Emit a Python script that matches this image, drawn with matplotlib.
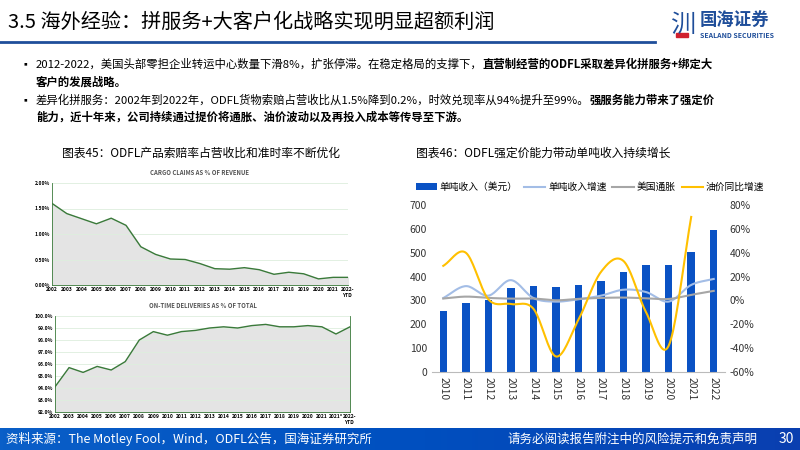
import matplotlib.pyplot as plt
import numpy as np
from matplotlib.lines import Line2D
from matplotlib.patches import Rectangle

plt.rcParams['font.family'] = ['Noto Sans CJK SC', 'DejaVu Sans']

claim_years = ['2002', '2003', '2004', '2005', '2006', '2007', '2008', '2009', '2010', '2011', '2012',
               '2013', '2014', '2015', '2016', '2017', '2018', '2019', '2020', '2021', '2022-\nYTD']
claims = [1.6, 1.4, 1.3, 1.2, 1.31, 1.17, 0.75, 0.6, 0.51, 0.5, 0.42, 0.32, 0.31, 0.34, 0.3, 0.21,
          0.25, 0.22, 0.12, 0.15, 0.15]
ontime_years = ['2002', '2003', '2004', '2005', '2006', '2007', '2008', '2009', '2010', '2011', '2012',
                '2013', '2014', '2015', '2016', '2017', '2018', '2019', '2020', '2021', '2021*', '2022-\nYTD']
ontime = [94.1, 95.7, 95.3, 95.8, 95.5, 96.2, 98.0, 98.7, 98.4, 98.7, 98.8, 99.0, 99.1, 99.0, 99.2,
          99.3, 99.1, 99.1, 99.2, 99.1, 98.5, 99.1]

years = ['2010', '2011', '2012', '2013', '2014', '2015', '2016', '2017', '2018', '2019', '2020', '2021', '2022']
rev_per_ton = [255, 288, 300, 352, 360, 357, 364, 381, 420, 447, 447, 503, 596]
rev_growth = [2, 12, 4, 17, 2, -1, 1, 4, 9, 7, -1, 13, 18]
inflation = [1.6, 3.2, 2.1, 1.5, 1.6, 0.1, 1.3, 2.1, 2.4, 1.8, 1.2, 4.7, 8.0]
oil_growth = [29, 40, 1, -3, -7, -47, -16, 24, 33, -10, -38, 70]

BLUE = '#0A52C4'


def smooth(x, y, n=20):
    # catmull-rom curve through the points, for display only
    x = np.asarray(x, float); y = np.asarray(y, float)
    px = np.concatenate([[2 * x[0] - x[1]], x, [2 * x[-1] - x[-2]]])
    py = np.concatenate([[2 * y[0] - y[1]], y, [2 * y[-1] - y[-2]]])
    xs, ys = [], []
    t = np.linspace(0, 1, n)
    for i in range(1, len(px) - 2):
        for p, out in ((px, xs), (py, ys)):
            p0, p1, p2, p3 = p[i - 1], p[i], p[i + 1], p[i + 2]
            out.extend(0.5 * (2 * p1 + (-p0 + p2) * t + (2 * p0 - 5 * p1 + 4 * p2 - p3) * t ** 2
                              + (-p0 + 3 * p1 - 3 * p2 + p3) * t ** 3))
    return xs, ys


fig = plt.figure(figsize=(8, 4.5), dpi=100)
W, H = 800, 450


def fx(px): return px / W
def fy(py): return 1 - py / H


# header
fig.text(fx(8), fy(22), '3.5 海外经验：拼服务+大客户化战略实现明显超额利润', fontsize=14.5, va='center')
fig.add_artist(Line2D([0, fx(655)], [fy(42), fy(42)], color='#1F4E9A', lw=2))
fig.text(fx(700), fy(20), '国海证券', fontsize=12.5, color='#1F4E9A', fontweight='bold', va='center')
fig.text(fx(700), fy(36), 'SEALAND SECURITIES', fontsize=5, color='#1F4E9A', fontweight='bold', va='center')
fig.text(fx(670), fy(25), '汌', fontsize=18, color='#1F4E9A', va='center')
fig.add_artist(Rectangle((fx(676), fy(37)), 12 / W, 4 / H, color='#D0202E'))

# bullets with mixed bold
renderer = fig.canvas.get_renderer()


def rich(x, y, parts):
    for txt, bold in parts:
        t = fig.text(fx(x), fy(y), txt, fontsize=8.2, va='center',
                     fontweight='bold' if bold else 'normal')
        x += t.get_window_extent(renderer).width


fig.text(fx(20), fy(64), '▪', fontsize=7, va='center')
rich(36, 64, [('2012-2022，美国头部零担企业转运中心数量下滑8%，扩张停滞。在稳定格局的支撑下，', False),
              ('直营制经营的ODFL采取差异化拼服务+绑定大', True)])
rich(36, 82, [('客户的发展战略。', True)])
fig.text(fx(20), fy(100), '▪', fontsize=7, va='center')
rich(36, 100, [('差异化拼服务：2002年到2022年，ODFL货物索赔占营收比从1.5%降到0.2%，时效兑现率从94%提升至99%。', False),
               ('强服务能力带来了强定价', True)])
rich(36, 117, [('能力，近十年来，公司持续通过提价将通胀、油价波动以及再投入成本等传导至下游。', True)])

fig.text(fx(62), fy(153), '图表45：ODFL产品索赔率占营收比和准时率不断优化', fontsize=8.5, va='center')
fig.text(fx(416), fy(153), '图表46：ODFL强定价能力带动单吨收入持续增长', fontsize=8.5, va='center')

GREEN = '#3A7A3A'
small = dict(fontsize=3.6, fontweight='bold')

# cargo claims
ax1 = fig.add_axes([fx(52), fy(285), (348 - 52) / W, (285 - 183) / H])
x1 = np.arange(len(claims))
ax1.fill_between(x1, claims, color='#E4E4E4')
ax1.plot(x1, claims, color=GREEN, lw=1)
ax1.set_xlim(0, len(claims) - 1)
ax1.set_ylim(0, 2)
ax1.set_yticks([0, 0.5, 1, 1.5, 2])
ax1.set_yticklabels(['0.00%', '0.50%', '1.00%', '1.50%', '2.00%'], **small)
ax1.set_xticks(x1)
ax1.set_xticklabels(claim_years, **small)
ax1.yaxis.grid(True, color='#DDEEDD', lw=0.6)
ax1.tick_params(length=0, pad=1.5)
for s in ['top', 'right']:
    ax1.spines[s].set_visible(False)
for s in ['left', 'bottom']:
    ax1.spines[s].set_color(GREEN)
    ax1.spines[s].set_linewidth(0.6)
ax1.set_title('CARGO CLAIMS AS % OF REVENUE', fontsize=4.3, fontweight='bold', color='#555555', pad=6)

# on-time deliveries
ax2 = fig.add_axes([fx(55), fy(412), (350 - 55) / W, (412 - 316) / H])
x2 = np.arange(len(ontime))
ax2.fill_between(x2, ontime, 92, color='#E4E4E4')
ax2.plot(x2, ontime, color=GREEN, lw=1)
ax2.set_xlim(0, len(ontime) - 1)
ax2.set_ylim(92, 100)
ax2.set_yticks(range(92, 101))
ax2.set_yticklabels(['%.1f%%' % v for v in range(92, 101)], **small)
ax2.set_xticks(x2)
ax2.set_xticklabels(ontime_years, **small)
ax2.yaxis.grid(True, color='#DDEEDD', lw=0.6)
ax2.tick_params(length=0, pad=1.5)
for s in ['top']:
    ax2.spines[s].set_visible(False)
for s in ['left', 'bottom', 'right']:
    ax2.spines[s].set_color(GREEN)
    ax2.spines[s].set_linewidth(0.6)
ax2.set_title('ON-TIME DELIVERIES AS % OF TOTAL', fontsize=4.3, fontweight='bold', color='#555555', pad=6)

# right chart
ax3 = fig.add_axes([fx(432), fy(372), (725 - 432) / W, (372 - 205) / H])
xr = np.arange(len(years))
ax3.bar(xr, rev_per_ton, width=0.33, color=BLUE, label='单吨收入（美元）', zorder=2)
ax3.set_ylim(0, 700)
ax3.set_xlim(-0.5, len(years) - 0.5)
ax3.set_yticks(range(0, 701, 100))
ax3.set_xticks(xr)
ax3.set_xticklabels(years, rotation=-90)
ax3.tick_params(labelsize=7.5, colors='#333333', length=0)
for s in ['top', 'right', 'left']:
    ax3.spines[s].set_visible(False)
ax3.spines['bottom'].set_color('#BBBBBB')
ax4 = ax3.twinx()
ax4.set_ylim(-60, 80)
ax4.set_yticks(range(-60, 81, 20))
ax4.set_yticklabels(['%d%%' % v for v in range(-60, 81, 20)])
ax4.tick_params(labelsize=7.5, colors='#333333', length=0)
for s in ax4.spines.values():
    s.set_visible(False)
ax4.plot(*smooth(xr, rev_growth), color='#A3BDE6', lw=1.5, label='单吨收入增速')
ax4.plot(*smooth(xr, inflation), color='#A6A6A6', lw=1.5, label='美国通胀')
ax4.plot(*smooth(xr[:len(oil_growth)], oil_growth), color='#FFC000', lw=1.5, label='油价同比增速')
h1, l1 = ax3.get_legend_handles_labels()
h2, l2 = ax4.get_legend_handles_labels()
fig.legend(h1 + h2, l1 + l2, loc='center', bbox_to_anchor=(fx(590), fy(187)), ncol=4, frameon=False,
           fontsize=7, handlelength=2.2, handletextpad=0.3, columnspacing=0.6)

# footer
grad = np.linspace(0, 1, 256).reshape(1, -1)
fax = fig.add_axes([0, 0, 1, 22 / H])
fax.imshow(grad, aspect='auto', cmap=plt.matplotlib.colors.LinearSegmentedColormap.from_list(
    'g', ['#0A5FC8', '#0050C0', '#0A3FB0']), extent=[0, 1, 0, 1])
fax.axis('off')
fig.text(fx(6), fy(439), '资料来源：The Motley Fool，Wind，ODFL公告，国海证券研究所', fontsize=9, color='white', va='center')
fig.text(fx(758), fy(439), '请务必阅读报告附注中的风险提示和免责声明', fontsize=9, color='white', va='center', ha='right')
fig.text(fx(794), fy(439), '30', fontsize=10, color='white', va='center', ha='right')

fig.savefig('out.png', dpi=100)
